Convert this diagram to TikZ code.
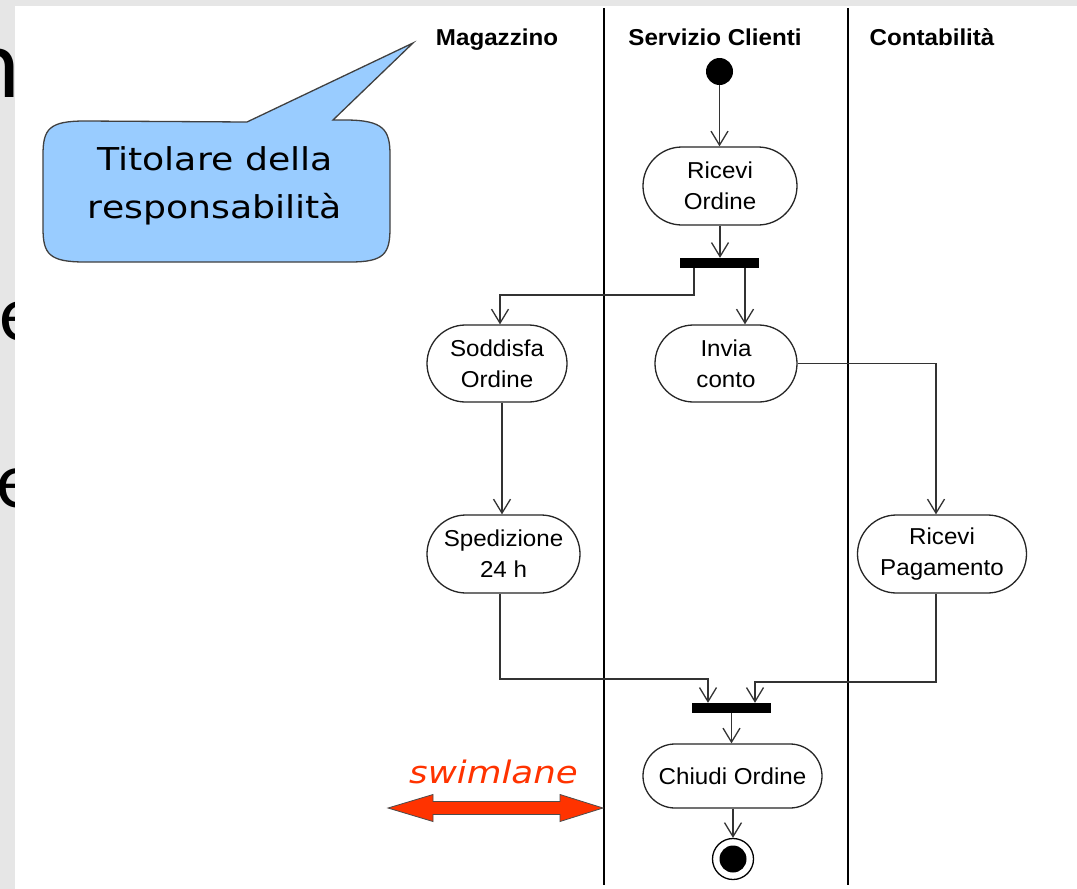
\documentclass[tikz,border=0pt]{standalone}
\usepackage{fontspec}
\usetikzlibrary{arrows.meta,shapes.misc}
\newfontfamily\diagfont{Liberation Sans}[FakeStretch=1.05]
\newfontfamily\notefont{DejaVu Sans}[FakeStretch=1.15]
\newfontfamily\slidefont{Carlito}
\definecolor{calloutblue}{HTML}{99CCFF}
\definecolor{lanered}{HTML}{FF3300}
\definecolor{slidegrey}{HTML}{E6E6E6}

\begin{document}
\begin{tikzpicture}[x=1pt,y=-1pt,
  activity/.style={rounded rectangle, draw=black!85, line width=1.3pt,
    align=center, inner sep=0pt, font=\diagfont\fontsize{23}{31}\selectfont},
  forkbar/.style={fill=black, minimum width=79pt, minimum height=10pt, inner sep=0pt},
  flow/.style={draw=black!80, line width=1.3pt,
    -{Straight Barb[length=14pt,width=17pt,line width=1.3pt]}},
  lanehead/.style={anchor=base, inner sep=0pt,
    font=\diagfont\bfseries\fontsize{23}{28}\selectfont},
  divider/.style={line width=2pt, black},
  fragment/.style={inner sep=0pt, text=black}]

\useasboundingbox (0,0) rectangle (1077,889);

% slide background with the clipped bullet text behind the panel
\fill[slidegrey] (0,0) rectangle (1077,889);
\node[fragment, anchor=base east, font=\slidefont\fontsize{100}{100}\selectfont] (fragN) at (20,97) {n};
\node[fragment, anchor=base west, font=\slidefont\fontsize{80}{80}\selectfont] (fragCE) at (-35,340) {ce};
\node[fragment, anchor=base west, font=\slidefont\fontsize{80}{80}\selectfont] (fragE) at (-4,507) {e};
\fill[white] (15,6) rectangle (1077,889);

% callout bubble
\draw[fill=calloutblue, draw=black!75, line width=1.3pt]
  (333,120) -- (345,120) .. controls (384,120) and (390,130) .. (390,155)
  -- (390,228) .. controls (390,254) and (384,262) .. (350,262)
  -- (85,262) .. controls (49,262) and (43,254) .. (43,228)
  -- (43,155) .. controls (43,129) and (49,121) .. (85,121)
  -- (247,122) -- (413,43) -- cycle;
\node[align=center, inner sep=0pt, font=\notefont\fontsize{31.5}{48}\selectfont]
  (note) at (215,186) {Titolare della\\responsabilità};

% swimlane dividers
\draw[divider] (604,8) -- (604,885);
\draw[divider] (847.5,8) -- (847.5,885);

% lane headers
\node[lanehead] (hMag) at (497,45) {Magazzino};
\node[lanehead] (hSer) at (715,45) {Servizio Clienti};
\node[lanehead] (hCon) at (932,45) {Contabilità};

% activity nodes
\node[circle, fill=black, minimum size=27pt, inner sep=0pt] (init) at (719.5,71.5) {};
\node[activity, minimum width=154pt, minimum height=78pt] (ricevi) at (720,186) {Ricevi\\Ordine};
\node[forkbar] (fork) at (719.5,263) {};
\node[activity, minimum width=140pt, minimum height=77pt] (soddisfa) at (497,363.5) {Soddisfa\\Ordine};
\node[activity, minimum width=142pt, minimum height=77pt] (invia) at (726,363.5) {Invia\\conto};
\node[activity, minimum width=153pt, minimum height=78pt] (sped) at (503.5,554) {Spedizione\\24 h};
\node[activity, minimum width=169pt, minimum height=78pt] (pag) at (942,554) {Ricevi\\Pagamento};
\node[forkbar] (join) at (731.5,708) {};
\node[activity, minimum width=179pt, minimum height=64pt] (chiudi) at (732.5,776) {Chiudi Ordine};
\node[circle, draw=black, line width=1.3pt, minimum size=41pt, inner sep=0pt,
  path picture={\fill[black] (path picture bounding box.center) circle (13.5pt);}]
  (final) at (733,859) {};

% routing points
\coordinate (b1) at (694,295);
\coordinate (b2) at (500,295);
\coordinate (xr) at (745,0);
\coordinate (xs) at (502,0);
\coordinate (xl) at (500,0);
\coordinate (xp) at (936,0);
\coordinate (j1) at (708,679);
\coordinate (j2) at (755,682);

% control flows
\draw[flow] (init) -- (init |- ricevi.north);
\draw[flow] (ricevi.south) -- (ricevi.south |- fork.north);
\draw[flow] (fork.south -| b1) -- (b1) -- (b2) -- (b2 |- soddisfa.north);
\draw[flow] (fork.south -| xr) -- (invia.north -| xr);
\draw[flow] (soddisfa.south -| xs) -- (sped.north -| xs);
\draw[flow] (invia.east) -| (pag.north -| xp);
\draw[flow] (sped.south -| xl) |- (j1) -- (join.north -| j1);
\draw[flow] (pag.south -| xp) |- (j2) -- (join.north -| j2);
\draw[flow] (join.south) -- (join.south |- chiudi.north);
\draw[flow] (chiudi.south -| final) -- (final.north);

% swimlane marker
\node[anchor=base, inner sep=0pt, text=lanered,
  font=\notefont\itshape\fontsize{31}{31}\selectfont] (swim) at (493.5,783) {swimlane};
\fill[lanered, draw=black!70, line width=0.8pt]
  (388,808) -- (433,794.5) -- (433,801.5) -- (560,801.5) -- (560,794.5)
  -- (603,808) -- (560,821.5) -- (560,814.5) -- (433,814.5) -- (433,821.5) -- cycle;
\end{tikzpicture}
\end{document}
